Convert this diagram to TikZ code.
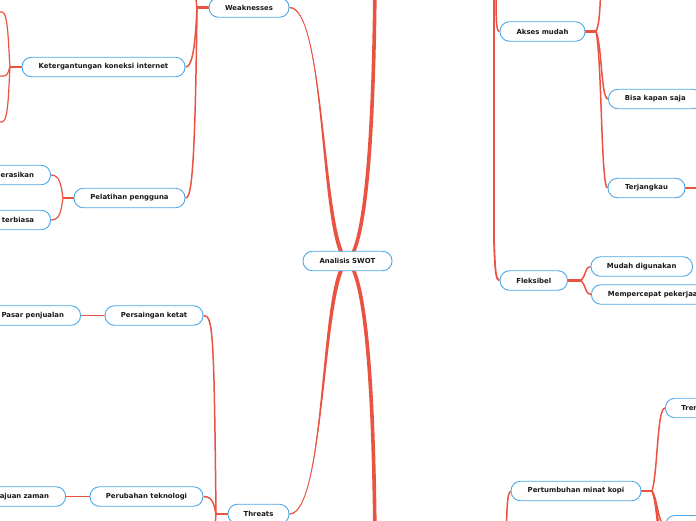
\documentclass[tikz,border=0pt]{standalone}
\usepackage{fontspec}
\setmainfont{DejaVu Sans}
\usetikzlibrary{calc,backgrounds}
\definecolor{lred}{RGB}{234,82,66}
\definecolor{boxblue}{RGB}{76,168,232}
\definecolor{txt}{RGB}{25,25,25}
\begin{document}
\begin{tikzpicture}[x=1pt,y=-1pt,
  box/.style={draw=boxblue, line width=0.9pt, fill=white, rounded corners=9.5pt,
    minimum height=19.5pt, inner xsep=2pt, inner ysep=0pt,
    font=\fontsize{6.9}{8}\selectfont\bfseries, text=txt},
  ln/.style={draw=lred, line width=1.5pt},
  lnb/.style={draw=lred, line width=2.3pt},
  lns/.style={draw=lred, line width=1.2pt}]
\path[use as bounding box] (0,0) rectangle (696,520);
% nodes
\node[box, minimum width=89pt] (root) at (347.5,261) {Analisis SWOT};
\node[box, minimum width=80pt] (wk) at (249,7.5) {Weaknesses};
\node[box, minimum width=163pt] (ket) at (103.5,67) {Ketergantungan koneksi internet};
\node[box, minimum width=111pt] (pel) at (129.5,198) {Pelatihan pengguna};
\node[box, text width=60pt, align=right, inner xsep=16.5pt, anchor=east] (era) at (51,175) {erasikan};
\node[box, text width=60pt, align=right, inner xsep=16.5pt, anchor=east] (ter) at (51,220) {terbiasa};
\node[box, inner xsep=16.5pt, anchor=east] (pas) at (81,315.5) {Pasar penjualan};
\node[box, minimum width=98pt] (per) at (154,315.5) {Persaingan ketat};
\node[box, minimum width=113pt] (ptk) at (146.5,496.5) {Perubahan teknologi};
\node[box, text width=70pt, align=right, inner xsep=16.5pt, anchor=east] (aja) at (66,496.5) {ajuan zaman};
\node[box, minimum width=61pt] (thr) at (258.5,514) {Threats};
\node[box, minimum width=85pt] (akm) at (542.5,31.5) {Akses mudah};
\node[box, inner xsep=16.5pt, anchor=west] (bks) at (608,99) {Bisa kapan saja};
\node[box, minimum width=77pt] (trj) at (646.5,188) {Terjangkau};
\node[box, minimum width=67.5pt] (flk) at (533.75,280.5) {Fleksibel};
\node[box, minimum width=101.5pt] (mdg) at (641.75,266.5) {Mudah digunakan};
\node[box, inner xsep=16.5pt, anchor=west] (mpp) at (591,294.5) {Mempercepat pekerjaan};
\node[box, minimum width=130pt] (pmk) at (576,491) {Pertumbuhan minat kopi};
\node[box, text width=60pt, align=left, inner xsep=16pt, anchor=west] (tren) at (665,408) {Tren};
\node[box, minimum width=70pt, anchor=north west] (bot) at (665,515) {};
% free ends
\coordinate (sT) at (375,-20);
\coordinate (sO) at (375,545);
\coordinate (jw) at (197,7.5);
\coordinate (wup) at (196,-30);
\coordinate (jk) at (10,67);
\coordinate (k1) at (-10,12);
\coordinate (k2) at (-10,76);
\coordinate (k3) at (-10,122);
\coordinate (jp) at (63,198);
\coordinate (jt) at (216,514);
\coordinate (tdn) at (215,545);
\coordinate (sa) at (494,-20);
\coordinate (sb) at (496,-20);
\coordinate (ja) at (596,31.5);
\coordinate (aup) at (601,-20);
\coordinate (trr) at (710,188);
\coordinate (jf) at (581,280.5);
\coordinate (pdn) at (506,545);
\coordinate (jm) at (652,491);
\coordinate (m2) at (668,570);
\coordinate (m3) at (668,610);
\begin{scope}[on background layer]
\clip (0,0) rectangle (696,520);
% root branches
\fill[lred] ($(wk.east)+(0,-0.6)$) .. controls (326,6.9) and (319,245) .. ($(root.center)+(-2.2,0)$)
  -- ($(root.center)+(2.2,0)$) .. controls (323,245) and (326,8.1) .. ($(wk.east)+(0,0.6)$) -- cycle;
\draw[lred, line width=0.9pt] (wk.east) .. controls (326,7.5) and (321,245) .. (root.center);
\fill[lred] ($(thr.east)+(0,0.6)$) .. controls (326,514.6) and (319,277) .. ($(root.center)+(-2.2,0)$)
  -- ($(root.center)+(2.2,0)$) .. controls (323,277) and (326,513.4) .. ($(thr.east)+(0,-0.6)$) -- cycle;
\draw[lred, line width=0.9pt] (thr.east) .. controls (326,514) and (321,277) .. (root.center);
\draw[lred, line width=3.6pt] (root.center) .. controls (367,245) and (374,120) .. (sT);
\draw[lred, line width=3.6pt] (root.center) .. controls (367,277) and (374,402) .. (sO);
% Weaknesses
\draw[lnb] (wk.west) -- (jw);
\draw[ln] (jw) .. controls (195.5,0) and (196,-10) .. (wup);
\draw[ln] (jw) .. controls (195,55) and (191,67) .. (ket.east);
\draw[ln] (jw) .. controls (195,180) and (191,198) .. (pel.east);
\draw[lnb, line width=2pt] (ket.west) -- (jk);
\draw[lns] (jk) .. controls (8.5,50) and (8.5,12) .. (2,12) -- (k1);
\draw[lns] (jk) .. controls (8.5,70) and (8,76) .. (4,76) -- (k2);
\draw[lns] (jk) .. controls (8.5,90) and (8.5,122) .. (2,122) -- (k3);
\draw[lnb, line width=2pt] (pel.west) -- (jp);
\draw[lns] (jp) .. controls (61,185) and (60,175) .. (era.east);
\draw[lns] (jp) .. controls (61,211) and (60,220) .. (ter.east);
% Threats
\draw[lnb] (thr.west) -- (jt);
\draw[ln] (jt) .. controls (214,330) and (213,315.5) .. (per.east);
\draw[ln] (jt) .. controls (214,505) and (213,496.5) .. (ptk.east);
\draw[ln] (jt) .. controls (215,525) and (215,530) .. (tdn);
\draw[ln] (per.west) -- (pas.east);
\draw[ln] (ptk.west) -- (aja.east);
% Strengths side
\draw[lred, line width=1.8pt] (sa) -- (494,240) .. controls (495,272) and (496,280.5) .. (flk.west);
\draw[ln] (sb) .. controls (496,20) and (496,31.5) .. (akm.west);
\draw[lnb] (akm.east) -- (ja);
\draw[ln] (ja) .. controls (599,25) and (600,15) .. (aup);
\draw[ln] (ja) .. controls (602,45) and (601,99) .. (bks.west);
\draw[ln] (ja) .. controls (602,60) and (601,188) .. (trj.west);
\draw[lnb] (trj.east) -- (trr);
\draw[lnb] (flk.east) -- (jf);
\draw[ln] (jf) .. controls (586,276) and (585,266.5) .. (mdg.west);
\draw[ln] (jf) .. controls (586,285) and (585,294.5) .. (mpp.west);
% Opportunities side
\draw[ln] (pmk.west) .. controls (507,495) and (507,505) .. (pdn);
\draw[lnb] (pmk.east) -- (jm);
\draw[ln] (jm) .. controls (658,470) and (657,408) .. (tren.west);
\draw[ln] (jm) .. controls (658,500) and (658,524.75) .. (bot.west);
\draw[ln] (jm) .. controls (659,505) and (660,560) .. (m2);
\draw[ln] (jm) .. controls (659,505) and (661,600) .. (m3);
\end{scope}
\end{tikzpicture}
\end{document}
